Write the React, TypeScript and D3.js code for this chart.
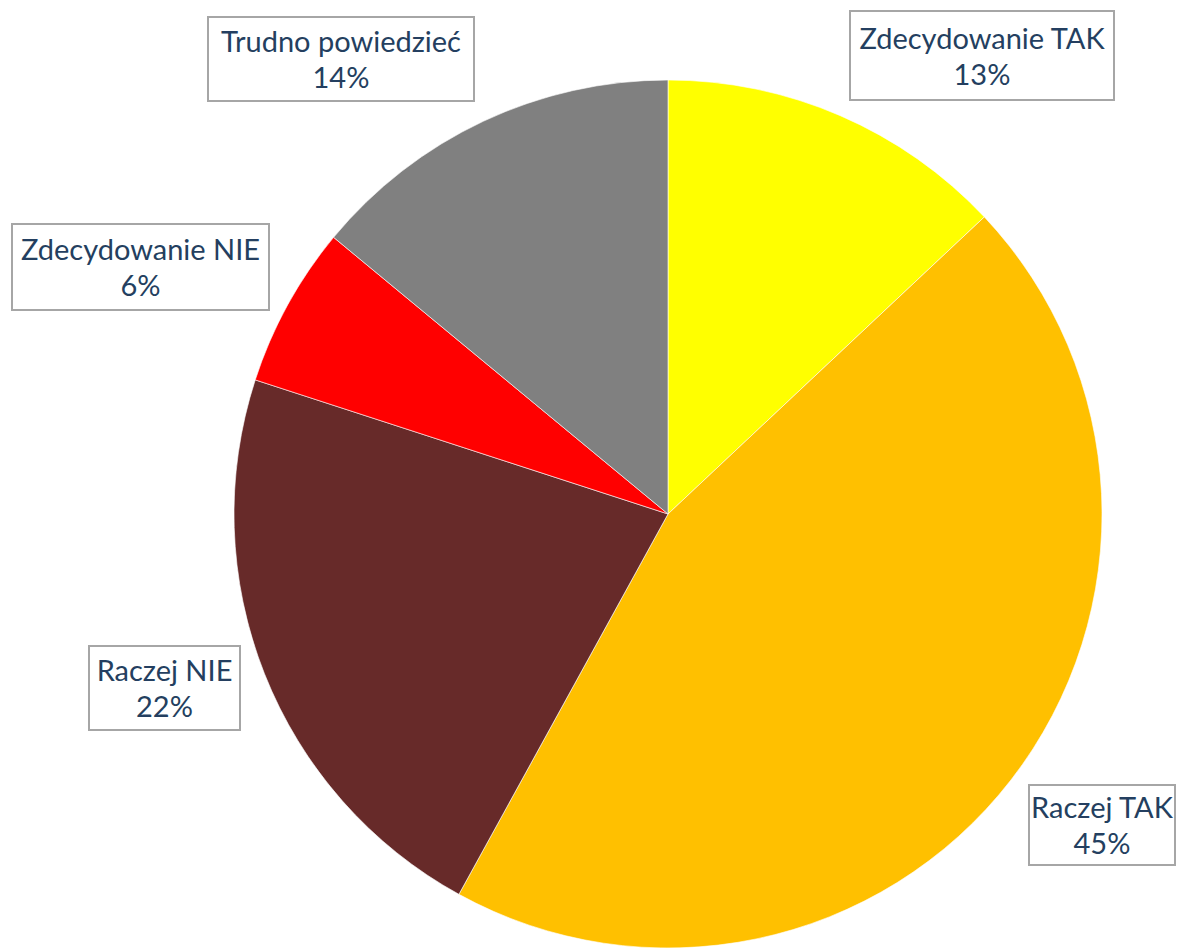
import React from "react";
import * as d3 from "d3";

const categories = ["Zdecydowanie TAK", "Raczej TAK", "Raczej NIE", "Zdecydowanie NIE", "Trudno powiedzieć"];
const values = [13, 45, 22, 6, 14];
const colors = ["#FFFF00", "#FFC000", "#672A29", "#FF0000", "#808080"];

// label box layout (x0, y0, x1, y1)
const labelBoxes: [number, number, number, number][] = [
  [850, 11, 1114, 100],
  [1029, 785, 1175, 865],
  [89, 646, 240, 730],
  [12, 224, 269, 310],
  [208, 17, 474, 101],
];

const W = 1182;
const H = 952;
const cx = 668;
const cy = 514;
const R = 434;

export default function App() {
  const pie = d3.pie<number>().sort(null).value((d) => d);
  const arcs = pie(values);
  const arc = d3.arc<d3.PieArcDatum<number>>().innerRadius(0).outerRadius(R);
  const fontSize = 29;
  return (
    <svg width={W} height={H} style={{ position: "absolute", left: 0, top: 0, background: "#fff" }}>
      <g transform={`translate(${cx},${cy})`}>
        {arcs.map((a, i) => (
          <path key={i} d={arc(a) || ""} fill={colors[i]} stroke="#ffffff" strokeWidth={0.6} />
        ))}
      </g>
      {categories.map((c, i) => {
        const [x0, y0, x1, y1] = labelBoxes[i];
        const mx = (x0 + x1) / 2;
        const my = (y0 + y1) / 2;
        return (
          <g key={c}>
            <rect x={x0} y={y0} width={x1 - x0} height={y1 - y0} fill="#fff" stroke="#a6a6a6" strokeWidth={2} />
            <text
              x={mx}
              textAnchor="middle"
              fontFamily="Lato, 'Open Sans', sans-serif"
              fontSize={fontSize}
              fill="#243F60"
            >
              <tspan x={mx} y={my - 7}>{c}</tspan>
              <tspan x={mx} y={my + 29}>{`${values[i]}%`}</tspan>
            </text>
          </g>
        );
      })}
    </svg>
  );
}
